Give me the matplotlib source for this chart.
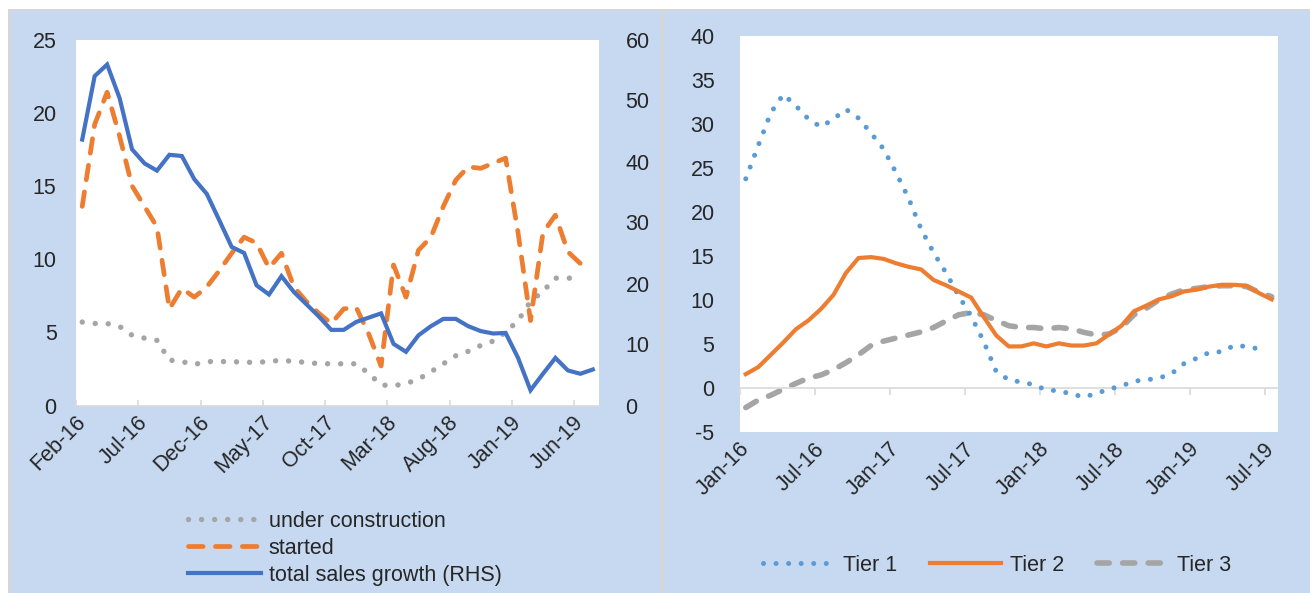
import numpy as np
import pandas as pd
import matplotlib
matplotlib.use("Agg")
import matplotlib.pyplot as plt
from matplotlib.patches import Rectangle

plt.rcParams['font.family'] = ['Liberation Sans', 'DejaVu Sans']
plt.rcParams['axes.unicode_minus'] = False

# ---- left panel data: monthly, Feb-16 .. Jul-19
left_months = pd.date_range('2016-02-01', periods=42, freq='MS').strftime('%b-%y').tolist()
under_construction = [5.7, 5.6, 5.6, 5.4, 4.8, 4.6, 4.45, 3.1, 3.0, 2.8, 3.0, 3.0, 3.0, 2.95,
                      2.95, 3.0, 3.1, 3.0, 2.95, 2.85, 2.85, 2.85, 2.85, 2.2, 1.4, 1.35, 1.5,
                      1.8, 2.3, 2.85, 3.4, 3.7, 4.1, 4.4, 5.0, 5.8, 7.1, 7.8, 8.7, 8.7, 8.7]
started = [13.6, 19.2, 21.4, 18.4, 15.0, 13.6, 12.2, 6.6, 8.0, 7.4, 8.1, 9.2, 10.4, 11.5,
           11.1, 9.4, 10.4, 8.1, 7.1, 6.3, 5.6, 6.6, 6.7, 4.9, 2.7, 9.6, 7.4, 10.6, 11.5,
           13.6, 15.4, 16.3, 16.2, 16.55, 16.9, 11.8, 5.8, 11.8, 13.0, 10.5, 9.7]
total_sales = [43.6, 54.0, 55.9, 50.4, 42.0, 39.7, 38.5, 41.1, 40.9, 37.1, 34.7, 30.4, 26.0,
               25.0, 19.7, 18.2, 21.2, 18.6, 16.6, 14.6, 12.4, 12.4, 13.7, 14.4, 15.1, 10.1,
               8.8, 11.5, 13.0, 14.2, 14.2, 13.0, 12.2, 11.8, 11.9, 7.8, 2.5, 5.2, 7.8, 5.75,
               5.2, 5.9]
left_tick_every = 5

# ---- right panel data: monthly, Jan-16 .. Jul-19
right_months = pd.date_range('2016-01-01', periods=43, freq='MS').strftime('%b-%y').tolist()
tier1 = [23.8, 27.6, 31.3, 33.4, 32.1, 30.6, 29.7, 30.6, 31.7, 30.7, 29.0, 27.2, 24.5, 21.6,
         18.1, 15.4, 13.1, 10.5, 8.2, 5.3, 1.9, 0.95, 0.7, 0.4, -0.2, -0.3, -0.65, -1.0,
         -0.6, -0.1, 0.25, 0.8, 0.95, 1.15, 1.65, 2.8, 3.4, 4.05, 4.15, 4.85, 4.75, 4.45]
tier2 = [1.6, 2.4, 3.8, 5.2, 6.7, 7.7, 9.0, 10.6, 13.1, 14.8, 14.9, 14.7, 14.2, 13.8, 13.5,
         12.3, 11.7, 11.0, 10.3, 8.1, 6.0, 4.75, 4.75, 5.1, 4.75, 5.1, 4.85, 4.85, 5.1, 6.1,
         7.1, 8.75, 9.4, 10.1, 10.45, 11.0, 11.2, 11.55, 11.75, 11.75, 11.65, 10.8, 10.1]
tier3 = [-2.2, -1.35, -0.8, -0.1, 0.55, 1.15, 1.5, 2.1, 2.9, 3.8, 4.85, 5.35, 5.7, 6.05, 6.4,
         6.9, 7.65, 8.35, 8.6, 8.35, 7.7, 7.1, 6.9, 6.9, 6.75, 6.9, 6.75, 6.35, 6.05, 6.15,
         6.9, 8.35, 9.1, 10.05, 10.7, 11.2, 11.35, 11.55, 11.65, 11.65, 11.55, 10.9, 10.4]
right_tick_every = 6

BG = '#C6D9F1'
BORDER = '#D6D6D6'
AXIS = '#D9D9D9'
TXT = '#262626'
FS = 15.5

W, H = 1310, 593
fig = plt.figure(figsize=(W / 100, H / 100), dpi=100, facecolor='white')

def fx(px):
    return px / W

def fy(py):
    return 1 - py / H

# panel backgrounds (drawn behind the axes)
fig.patches.append(Rectangle((fx(8), 0), fx(W - 8), fy(9), transform=fig.transFigure,
                             facecolor=BORDER, edgecolor='none', zorder=-10))
fig.patches.append(Rectangle((fx(10.7), 0), fx(661 - 10.7), fy(10.7), transform=fig.transFigure,
                             facecolor=BG, edgecolor='none', zorder=-9))
fig.patches.append(Rectangle((fx(663.5), 0), fx(W - 663.5), fy(10.7), transform=fig.transFigure,
                             facecolor=BG, edgecolor='none', zorder=-9))

# ---------------- left chart
ax = fig.add_axes([fx(76), fy(405.5), fx(599 - 76), (405.5 - 39.5) / H])
ax.set_facecolor('white')
x1 = np.arange(len(left_months))
ax2 = ax.twinx()

l1, = ax.plot(x1[:len(under_construction)], under_construction, color='#A5A5A5', lw=3.9,
              dashes=(0.01, 2.4), dash_capstyle='round', label='under construction', zorder=3)
l2, = ax.plot(x1[:len(started)], started, color='#ED7D31', lw=3.4, dashes=(3.1, 2.6),
              dash_capstyle='round', label='started', zorder=3)
l3, = ax2.plot(x1[:len(total_sales)], total_sales, color='#4472C4', lw=3.0,
               solid_joinstyle='miter', label='total sales growth (RHS)', zorder=3)

ax.set_xlim(-0.5, len(left_months) - 0.5)
ax.set_ylim(0, 25)
ax2.set_ylim(0, 60)
ax.set_yticks(np.arange(0, 26, 5))
ax2.set_yticks(np.arange(0, 61, 10))
for a in (ax, ax2):
    for s in a.spines.values():
        s.set_visible(False)
ax.spines['bottom'].set_visible(True)
ax.spines['bottom'].set_color(AXIS)
ax.spines['bottom'].set_linewidth(1.2)
ax.tick_params(axis='y', length=0, pad=14, labelsize=FS, labelcolor=TXT)
ax2.tick_params(axis='y', length=0, pad=19, labelsize=FS, labelcolor=TXT)

ax.set_xticks(np.arange(-0.5, len(left_months), left_tick_every), minor=True)
ax.set_xticks(x1[::left_tick_every])
ax.set_xticklabels(left_months[::left_tick_every], rotation=45, ha='right',
                   rotation_mode='anchor', va='center')
ax.tick_params(axis='x', which='major', length=0, pad=10, labelsize=FS, labelcolor=TXT)
ax.tick_params(axis='x', which='minor', direction='in', length=4.5, color=AXIS, width=1.2)

fig.legend(handles=[l1, l2, l3], loc='upper left', bbox_to_anchor=(fx(188), fy(511)),
           bbox_transform=fig.transFigure, frameon=False, fontsize=FS, handlelength=3.4,
           handletextpad=0.35, labelspacing=0.27, borderpad=0, borderaxespad=0,
           labelcolor=TXT)

# ---------------- right chart
bx = fig.add_axes([fx(739.5), fy(432.2), fx(1278 - 739.5), (432.2 - 36.3) / H])
bx.set_facecolor('white')
x2 = np.arange(len(right_months))
t1, = bx.plot(x2[:len(tier1)], tier1, color='#5B9BD5', lw=3.6, dashes=(0.01, 2.5),
              dash_capstyle='round', label='Tier 1', zorder=3)
t2, = bx.plot(x2[:len(tier2)], tier2, color='#ED7D31', lw=3.0, label='Tier 2', zorder=3)
t3, = bx.plot(x2[:len(tier3)], tier3, color='#A5A5A5', lw=4.0, dashes=(2.2, 2.4),
              dash_capstyle='round', label='Tier 3', zorder=2)

bx.set_xlim(-0.5, len(right_months) - 0.5)
bx.set_ylim(-5, 40)
bx.set_yticks(np.arange(-5, 41, 5))
for s in bx.spines.values():
    s.set_visible(False)
bx.spines['bottom'].set_visible(True)
bx.spines['bottom'].set_position(('data', 0))
bx.spines['bottom'].set_color(AXIS)
bx.spines['bottom'].set_linewidth(1.2)
bx.tick_params(axis='y', length=0, pad=18, labelsize=FS, labelcolor=TXT)
bx.set_xticks(np.arange(-0.5, len(right_months), right_tick_every))
bx.tick_params(axis='x', direction='out', length=5, color=AXIS, width=1.2, labelbottom=False)

sec = bx.secondary_xaxis(0.0)
sec.set_xticks(x2[::right_tick_every])
sec.set_xticklabels(right_months[::right_tick_every], rotation=45, ha='right',
                    rotation_mode='anchor', va='center')
sec.tick_params(axis='x', length=0, pad=10, labelsize=FS, labelcolor=TXT)
sec.spines['bottom'].set_visible(False)

fig.legend(handles=[t1, t2, t3], loc='upper left', bbox_to_anchor=(fx(763), fy(555)),
           bbox_transform=fig.transFigure, frameon=False, fontsize=FS, ncol=3,
           handlelength=3.3, handletextpad=0.4, columnspacing=1.55, borderpad=0,
           borderaxespad=0, labelcolor=TXT)

fig.savefig('out.png', dpi=100, facecolor=fig.get_facecolor())
